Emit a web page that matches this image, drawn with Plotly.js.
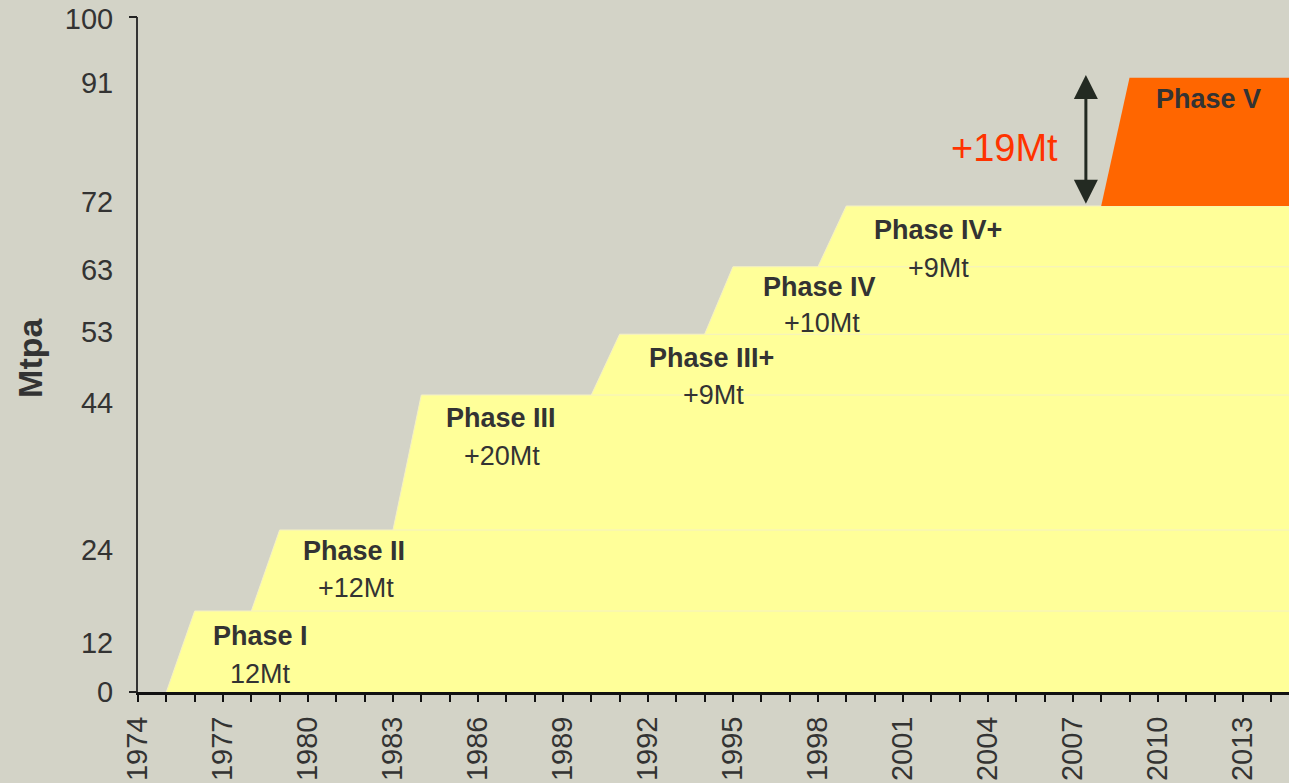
<!DOCTYPE html>
<html>
<head>
<meta charset="utf-8">
<script src="https://cdn.plot.ly/plotly-3.0.1.min.js"></script>
<style>html,body{margin:0;padding:0;background:#d3d3c7;}#chart{width:1289px;height:783px;}</style>
</head>
<body>
<div id="chart"></div>
<script>
// ---- data ----
const phases = ['Phase I', 'Phase II', 'Phase III', 'Phase III+', 'Phase IV', 'Phase IV+', 'Phase V'];
const rampStart = [1975, 1978, 1983, 1990, 1994, 1998, 2008];
const rampEnd = [1976, 1979, 1984, 1991, 1995, 1999, 2009];
const capacity = [12, 24, 44, 53, 63, 72, 91];
const addedLabels = ['12Mt', '+12Mt', '+20Mt', '+9Mt', '+10Mt', '+9Mt', '+19Mt'];
const yTickText = ['0', '12', '24', '44', '53', '63', '72', '91', '100'];
const years = [];
for (let y = 1974; y <= 2014; y++) years.push(y);
const yearLabels = years.map(y => ((y - 1974) % 3 === 0 ? String(y) : ''));

// ---- layout helpers (positions as drawn in the reference) ----
const yTickPos = [0, 7.3, 21.0, 42.8, 53.3, 62.5, 72.6, 90.3, 99.8];
const nameX = [1978.33, 1981.64, 1986.81, 1994.24, 1998.04, 2002.25, 2011.79];
const nameY = [8.3, 20.9, 40.6, 49.5, 60.0, 68.4, 87.85];
const addX = [1978.31, 1981.68, 1986.85, 1994.3, 1998.14, 2002.27, 2004.57];
const addY = [2.67, 15.4, 35.0, 44.0, 54.7, 62.8, 80.6];
const xMax = 2014.63;
const xFar = 2016;

const yellow = '#ffff99';
const orange = '#ff6600';
const txt = '#333333';
const bg = '#d3d3c7';

const traces = [];
// yellow phases drawn from highest to lowest so each lower band edge shows as a faint line
for (let i = 5; i >= 0; i--) {
  const prev = i === 0 ? 0 : capacity[i - 1];
  traces.push({
    type: 'scatter', mode: 'lines', name: phases[i],
    x: [rampStart[i], rampEnd[i], xFar],
    y: [prev, capacity[i], capacity[i]],
    fill: 'tozeroy', fillcolor: yellow,
    line: {color: '#f4f0c4', width: 1},
    hoverinfo: 'skip', showlegend: false
  });
}
// Phase V (orange) on top of Phase IV+
traces.push({
  type: 'scatter', mode: 'lines', name: phases[6],
  x: [rampStart[6], rampEnd[6], xFar, xFar, rampStart[6]],
  y: [capacity[5], capacity[6], capacity[6], capacity[5], capacity[5]],
  fill: 'toself', fillcolor: orange,
  line: {color: orange, width: 0},
  hoverinfo: 'skip', showlegend: false
});
// invisible trace on yaxis2 for the end tick marks
traces.push({type: 'scatter', mode: 'markers', x: [1974], y: [0], yaxis: 'y2',
  marker: {opacity: 0}, hoverinfo: 'skip', showlegend: false});

const annotations = [];
for (let i = 0; i < phases.length; i++) {
  annotations.push({
    x: nameX[i], y: nameY[i], xref: 'x', yref: 'y', showarrow: false,
    text: phases[i],
    font: {family: 'Liberation Sans, Arial, sans-serif', size: 27, color: txt, weight: 700}
  });
  if (i < 6) {
    annotations.push({
      x: addX[i], y: addY[i], xref: 'x', yref: 'y', showarrow: false,
      text: addedLabels[i],
      font: {family: 'Liberation Sans, Arial, sans-serif', size: 27, color: txt}
    });
  }
}
annotations.push({
  x: addX[6], y: addY[6], xref: 'x', yref: 'y', showarrow: false,
  text: addedLabels[6],
  font: {family: 'Liberation Sans, Arial, sans-serif', size: 38, color: '#ff3300'}
});
// double arrow showing the +19Mt increment
annotations.push({
  x: 2007.46, y: capacity[6] + 0.4, ax: 2007.46, ay: capacity[5] + 0.1,
  xref: 'x', yref: 'y', axref: 'x', ayref: 'y',
  showarrow: true, text: '', arrowhead: 2, arrowside: 'end+start',
  arrowsize: 1.6, arrowwidth: 3, arrowcolor: '#232a22'
});
// y-axis title
annotations.push({
  x: (30 - 138) / 1151, y: 0.495, xref: 'paper', yref: 'paper', showarrow: false,
  text: 'Mtpa', textangle: -90, xanchor: 'center', yanchor: 'middle',
  font: {family: 'Liberation Sans, Arial, sans-serif', size: 34, color: txt, weight: 700}
});

const layout = {
  width: 1289, height: 783,
  margin: {l: 138, r: 0, t: 17, b: 91, pad: 0},
  paper_bgcolor: bg, plot_bgcolor: bg,
  showlegend: false,
  xaxis: {
    range: [1974, xMax], showgrid: false, zeroline: false,
    showline: true, linecolor: '#111111', linewidth: 3,
    tickmode: 'array', tickvals: years, ticktext: yearLabels,
    ticks: 'outside', ticklen: 7, tickwidth: 2, tickcolor: '#111111',
    tickangle: -90, ticklabelstandoff: 3,
    tickfont: {family: 'Liberation Sans, Arial, sans-serif', size: 29, color: txt},
    fixedrange: true
  },
  yaxis: {
    range: [0, 100], showgrid: false, zeroline: false,
    showline: true, linecolor: '#333333', linewidth: 2,
    tickmode: 'array', tickvals: yTickPos, ticktext: yTickText,
    ticks: '', ticklabelstandoff: 17,
    tickfont: {family: 'Liberation Sans, Arial, sans-serif', size: 29, color: txt},
    fixedrange: true
  },
  yaxis2: {
    range: [0, 100], overlaying: 'y', side: 'left', showgrid: false, zeroline: false,
    showline: false, tickmode: 'array', tickvals: [0, 100], showticklabels: false,
    ticks: 'outside', ticklen: 8, tickwidth: 2, tickcolor: '#222222',
    fixedrange: true
  },
  annotations: annotations
};

Plotly.newPlot('chart', traces, layout, {staticPlot: true, displayModeBar: false});
</script>
</body>
</html>
